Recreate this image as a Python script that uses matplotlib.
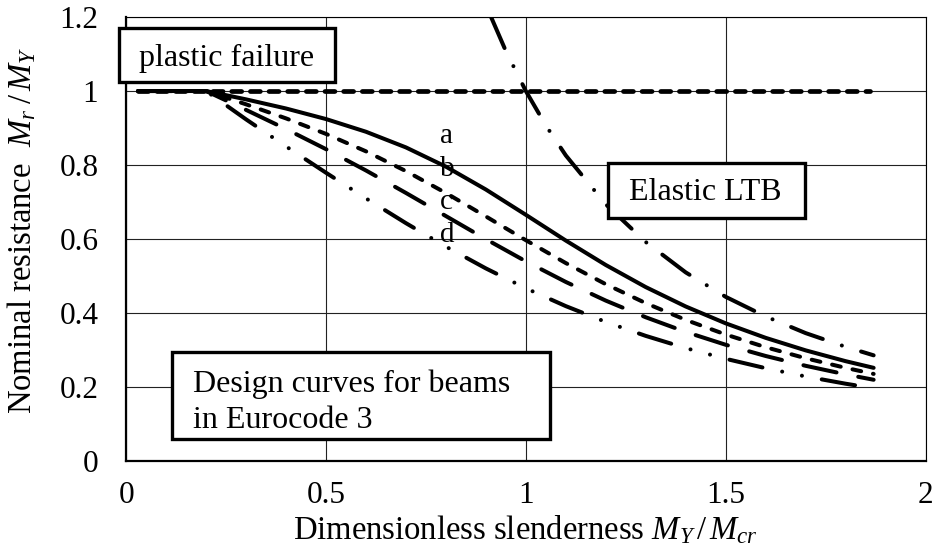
import numpy as np
import matplotlib
matplotlib.use("Agg")
import matplotlib.pyplot as plt
from matplotlib.patches import Rectangle

plt.rcParams['font.family'] = ['Liberation Serif', 'DejaVu Serif']
plt.rcParams['mathtext.fontset'] = 'custom'
plt.rcParams['mathtext.rm'] = 'Liberation Serif'
plt.rcParams['mathtext.it'] = 'Liberation Serif:italic'

# slenderness values and reduction factors for the four buckling curves
slender = [0.03, 0.2, 0.3, 0.4, 0.5, 0.6, 0.7, 0.8, 0.9, 1.0, 1.1, 1.2,
           1.3, 1.4, 1.5, 1.6, 1.7, 1.8, 1.87]
curve_a = [1.0, 1.0, 0.9775, 0.9528, 0.9243, 0.8900, 0.8477, 0.7957, 0.7339,
           0.6656, 0.5960, 0.5300, 0.4703, 0.4179, 0.3724, 0.3332, 0.2994,
           0.2702, 0.2522]
curve_b = [1.0, 1.0, 0.9641, 0.9261, 0.8842, 0.8371, 0.7837, 0.7245, 0.6612,
           0.5970, 0.5352, 0.4781, 0.4269, 0.3817, 0.3422, 0.3079, 0.2781,
           0.2521, 0.2358]
curve_c = [1.0, 1.0, 0.9491, 0.8973, 0.8430, 0.7854, 0.7247, 0.6622, 0.5998,
           0.5399, 0.4842, 0.4338, 0.3888, 0.3492, 0.3145, 0.2842, 0.2577,
           0.2345, 0.2200]
curve_d = [1.0, 1.0, 0.9235, 0.8504, 0.7793, 0.7100, 0.6431, 0.5797, 0.5208,
           0.4671, 0.4189, 0.3762, 0.3385, 0.3055, 0.2766, 0.2512, 0.2289,
           0.2093, 0.1970]

# plastic limit
plastic_x = [0.03, 1.86]
plastic_y = [1.0, 1.0]

# elastic lateral torsional buckling
elastic_x = [0.913, 0.95, 1.0, 1.05, 1.1, 1.2, 1.3, 1.4, 1.5, 1.6, 1.7, 1.8, 1.87]
elastic_y = [1.2, 1.108, 1.0, 0.907, 0.826, 0.694, 0.592, 0.510, 0.444,
             0.391, 0.346, 0.309, 0.286]

xticks = [0, 0.5, 1, 1.5, 2]
xtick_labels = ['0', '0.5', '1', '1.5', '2']
yticks = [0, 0.2, 0.4, 0.6, 0.8, 1.0, 1.2]
ytick_labels = ['0', '0.2', '0.4', '0.6', '0.8', '1', '1.2']

fig = plt.figure(figsize=(9.34, 5.57), dpi=100)
ax = fig.add_axes([0.135, 0.172, 0.856, 0.7975])

lw = 2.9
ax.plot(slender, curve_a, color='k', lw=lw, solid_capstyle='round', zorder=3)
ax.plot(slender, curve_b, color='k', lw=lw, ls=(0, (2.2, 3.0)),
        dash_capstyle='round', zorder=3)
ax.plot(slender, curve_c, color='k', lw=lw, ls=(0, (8.4, 5.5)),
        dash_capstyle='round', zorder=3)
ax.plot(slender, curve_d, color='k', lw=lw,
        ls=(0, (8.4, 5.0, 0.01, 5.0, 0.01, 5.0)),
        dash_capstyle='round', zorder=3)
ax.plot(plastic_x, plastic_y, color='k', lw=3.4, ls=(0, (2.1, 1.85)),
        dash_capstyle='round', zorder=3)
ax.plot(elastic_x, elastic_y, color='k', lw=lw,
        ls=(0, (8.4, 5.0, 0.01, 5.0)), dash_capstyle='round', zorder=3)

# curve letters
for lab, yy in zip(['a', 'b', 'c', 'd'], [0.859, 0.770, 0.681, 0.592]):
    ax.text(0.785, yy, lab, fontsize=21, va='baseline', ha='left', zorder=4)

# framed annotations
boxes = [(-0.0175, 1.024, 0.54, 0.146),
         (1.205, 0.657, 0.4925, 0.148),
         (0.115, 0.0595, 0.945, 0.235)]
for x0, y0, w, h in boxes:
    ax.add_patch(Rectangle((x0, y0), w, h, facecolor='white', edgecolor='k',
                           lw=2.4, zorder=5, clip_on=False))
ax.text(0.0325, 1.0676, 'plastic failure', fontsize=23, va='baseline', zorder=6)
ax.text(1.45, 0.705, 'Elastic LTB', fontsize=23, va='baseline', ha='center', zorder=6)
ax.text(0.1675, 0.1865, 'Design curves for beams', fontsize=23, va='baseline', zorder=6)
ax.text(0.1675, 0.089, 'in Eurocode 3', fontsize=23, va='baseline', zorder=6)

ax.set_xlim(0, 2)
ax.set_ylim(0, 1.2)
ax.set_xticks(xticks)
ax.set_xticklabels(xtick_labels)
ax.set_yticks(yticks)
ax.set_yticklabels(ytick_labels)
ax.tick_params(length=0, labelsize=22.5)
ax.tick_params(axis='y', pad=20)
ax.tick_params(axis='x', pad=14)
ax.grid(True, color='#222222', lw=0.8)
ax.set_axisbelow(True)

for side in ['left', 'bottom']:
    ax.spines[side].set_linewidth(1.6)
for side in ['top', 'right']:
    ax.spines[side].set_linewidth(0.8)

ax.set_xlabel(r'Dimensionless slenderness $M_Y\,/\,M_{cr}$', fontsize=23.5)
ax.set_ylabel(r'Nominal resistance  $M_r\;/\,M_Y$', fontsize=23.5)
ax.xaxis.set_label_coords(0.5, -0.118)
ax.yaxis.set_label_coords(-0.11, 0.52)

fig.savefig('out.png', dpi=100)
